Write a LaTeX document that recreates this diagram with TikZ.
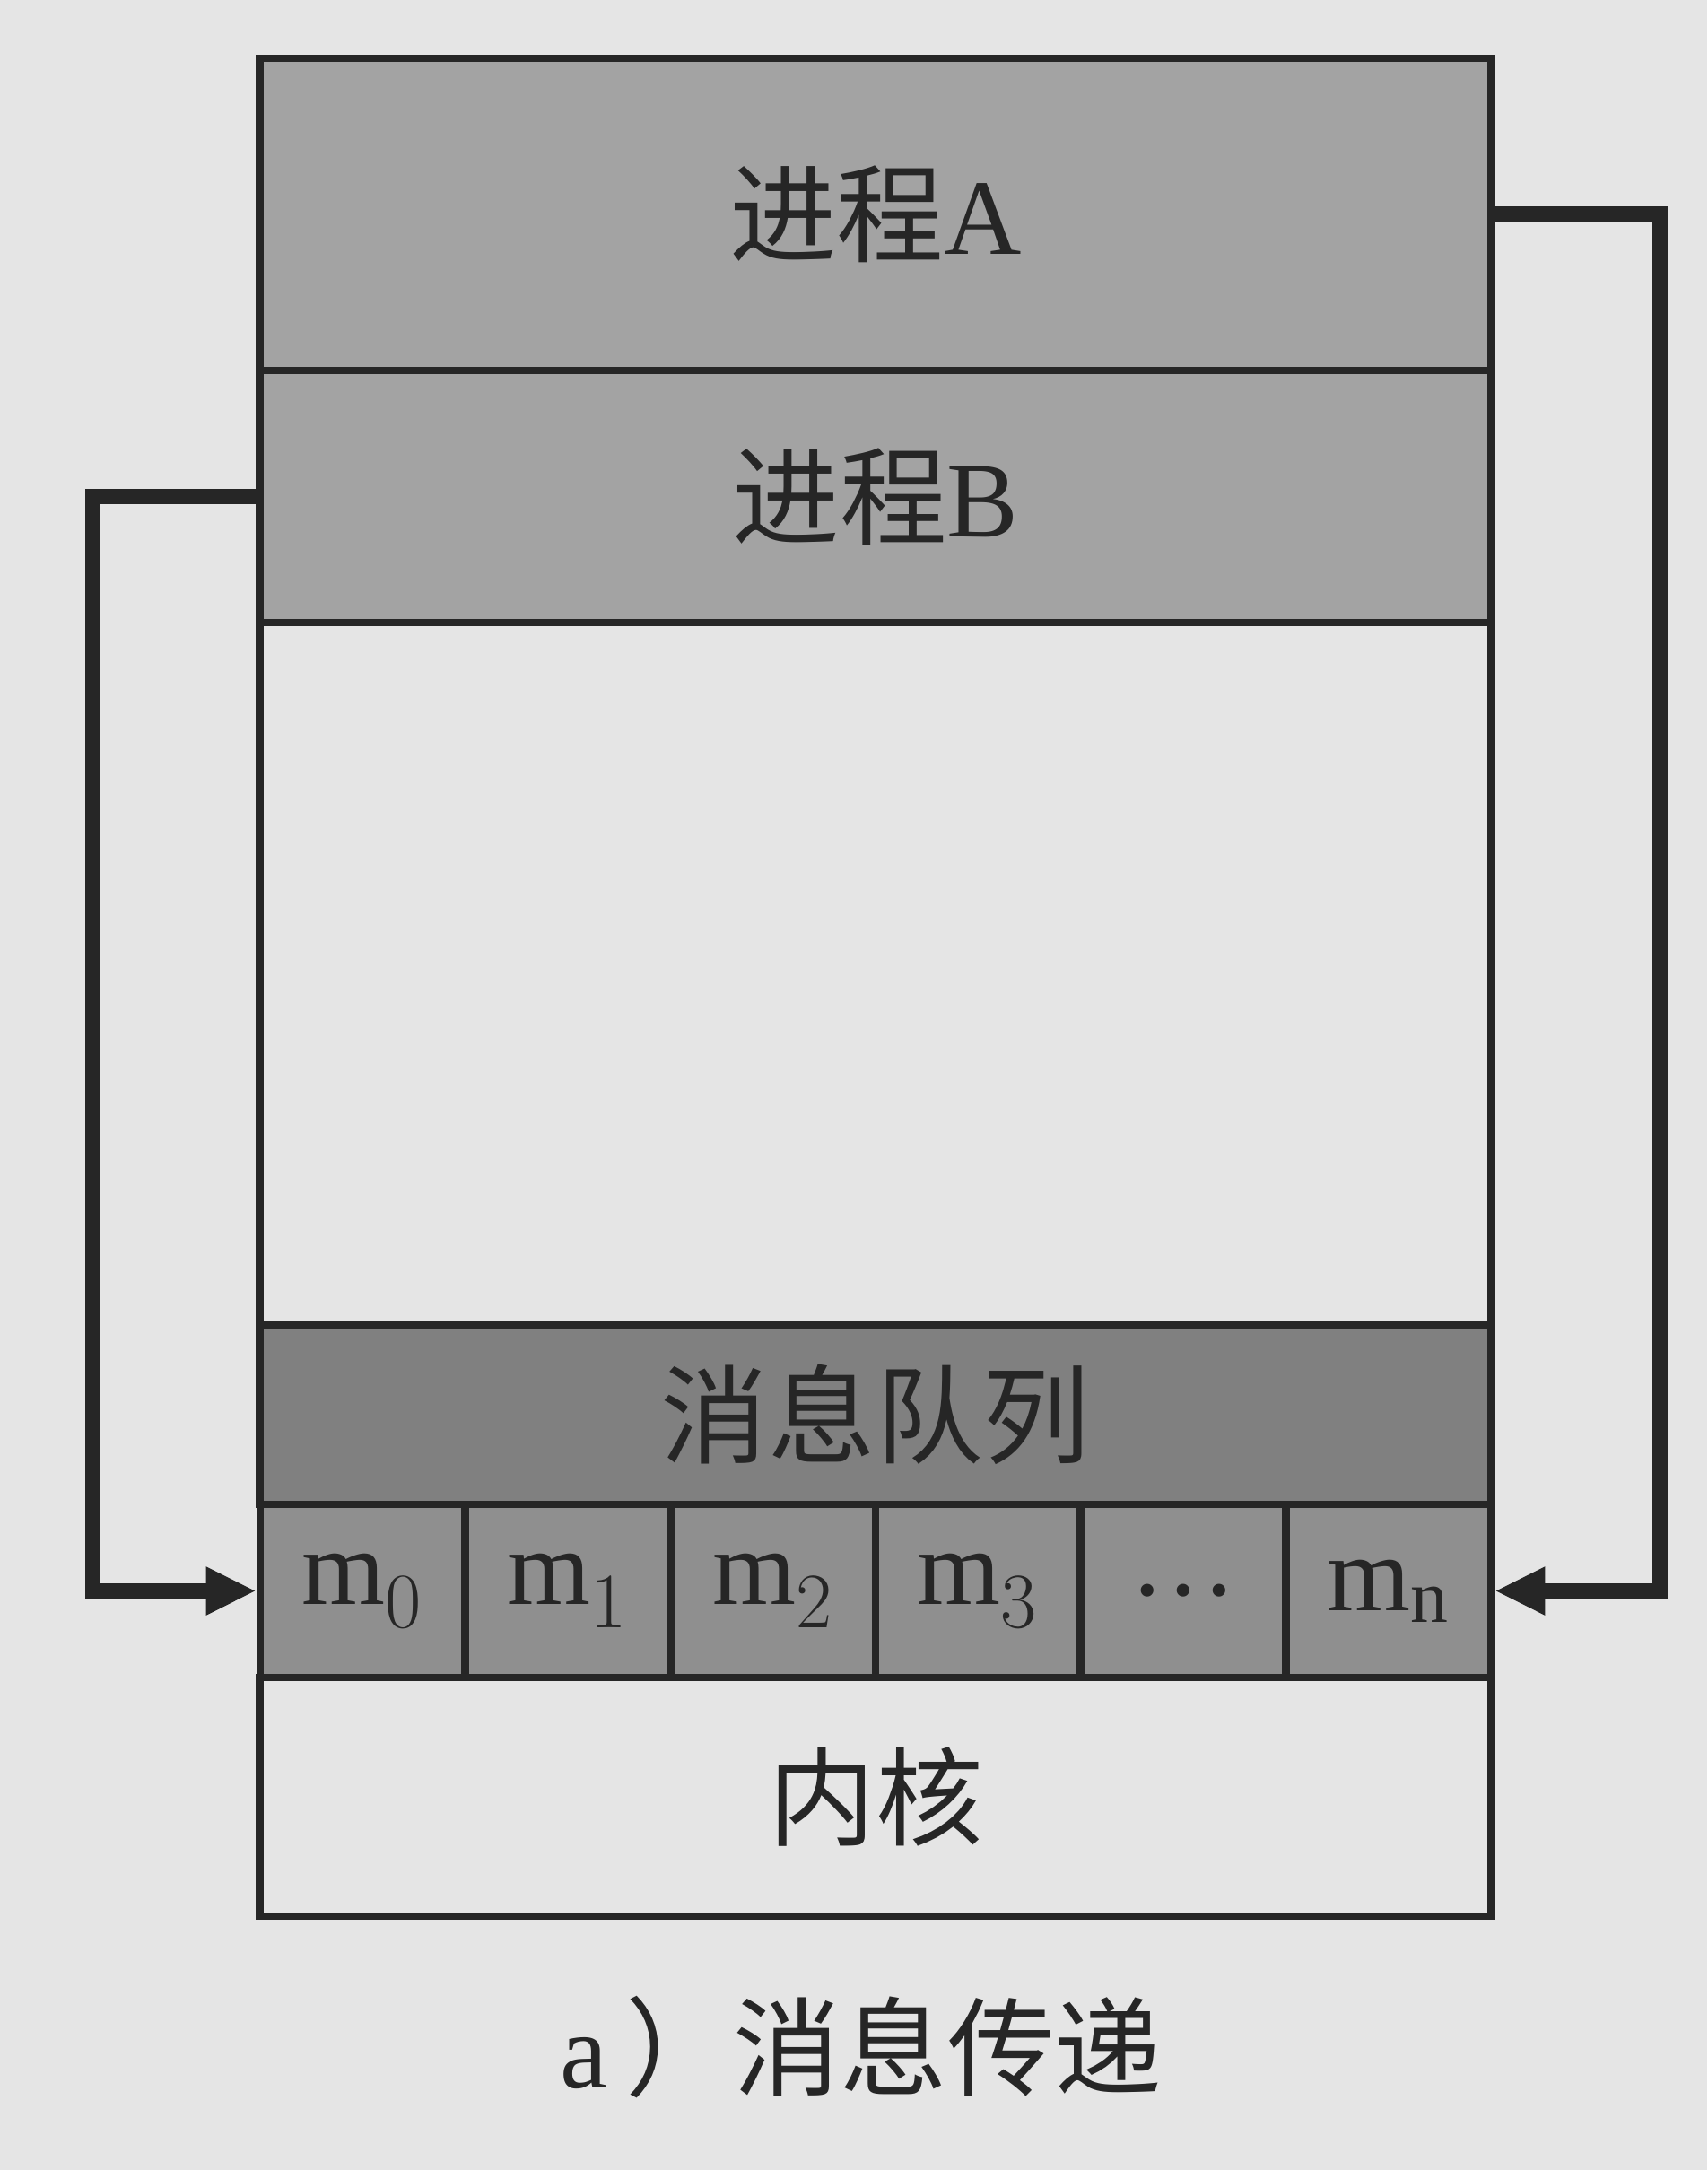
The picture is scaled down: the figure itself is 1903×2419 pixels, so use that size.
\documentclass[tikz,border=0pt]{standalone}
\usepackage{fontspec}
\setmainfont{Liberation Serif}
\newfontfamily\cjk{Noto Sans CJK SC}
\usetikzlibrary{arrows.meta}
\definecolor{paper}{gray}{0.90}
\definecolor{procfill}{gray}{0.64}
\definecolor{queuefill}{gray}{0.50}
\definecolor{cellfill}{gray}{0.56}
\tikzset{
  layer/.style={draw=black!85, line width=2.4pt, inner sep=0pt, minimum width=13.72cm, text=black!85},
  cell/.style={draw=black!85, line width=2.4pt, inner sep=0pt, fill=cellfill, minimum width=2.2867cm, minimum height=1.93cm, text=black!85},
  conn/.style={draw=black!85, line width=5pt, -{Triangle[length=5.6mm,width=5mm]}},
  big/.style={font=\fontsize{34}{40}\selectfont}
}
\begin{document}
\begin{tikzpicture}[x=0.01cm, y=-0.01cm]
  \useasboundingbox[fill=paper] (0,0) rectangle (1903,2419);
  %\draw[lightgray] (0,0) grid[step=100] (1903,2419);
  \node[layer, fill=procfill, minimum height=3.48cm, big] (procA) at (976,239) {{\cjk 进程}A};
  \node[layer, fill=procfill, minimum height=2.81cm, big] (procB) at (976,553.5) {{\cjk 进程}B};
  \node[layer, fill=paper, minimum height=7.83cm] (blank) at (976,1085.5) {};
  \node[layer, fill=queuefill, minimum height=2.00cm, big] (queue) at (976,1577) {\cjk 消息队列};
  \foreach \i/\lab in {0/m$_0$, 1/m$_1$, 2/m$_2$, 3/m$_3$, 4/\ldots, 5/m$_\mathrm{n}$}
    \node[cell, big] (m\i) at ({404.33+228.67*\i},1773.5) {\lab};
  \node[layer, fill=paper, minimum height=2.66cm, big] (kernel) at (976,2003) {\cjk 内核};
  \node[big, text=black!85] (caption) at (960,2282) {a\,{\cjk ）消息传递}};
  % sending and receiving
  \draw[conn] (procA.east) -- ++(184,0) |- (m5.east);
  \draw[conn] (procB.west) -- ++(-182,0) |- (m0.west);
\end{tikzpicture}
\end{document}
